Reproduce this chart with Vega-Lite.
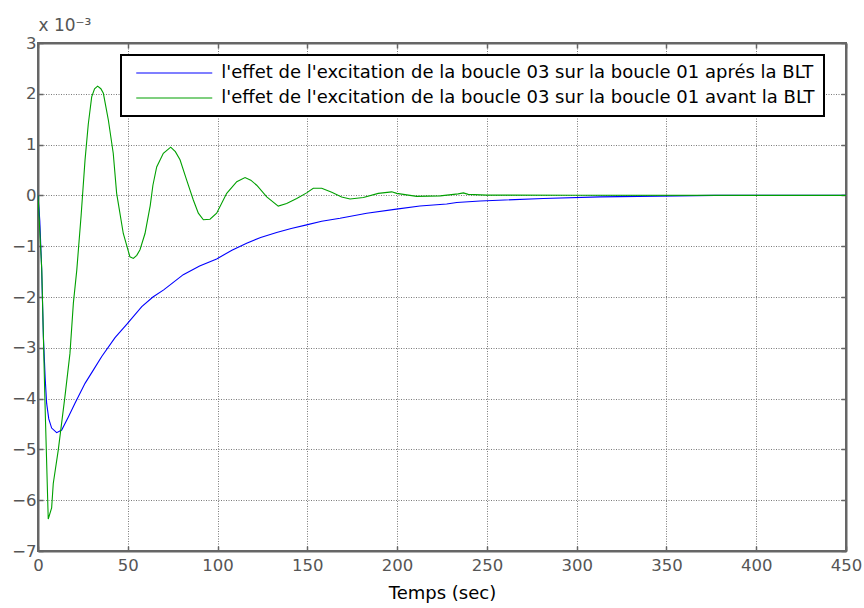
{
  "$schema": "https://vega.github.io/schema/vega-lite/v6.json",
  "width": 808,
  "height": 508,
  "autosize": {"type": "none"},
  "padding": {"left": 38, "top": 43, "right": 18, "bottom": 57},
  "background": "white",
  "config": {
    "font": "DejaVu Sans",
    "view": {"stroke": "#666666", "strokeWidth": 2},
    "axis": {
      "labelFont": "DejaVu Sans",
      "labelFontSize": 16.5,
      "labelColor": "#555555",
      "titleFont": "DejaVu Sans",
      "titleFontWeight": "normal",
      "domainColor": "#666666",
      "domainWidth": 2,
      "tickColor": "#666666",
      "tickWidth": 1.5,
      "tickSize": -5,
      "gridColor": "#7a7a7a",
      "gridDash": [1, 1.5],
      "gridWidth": 1
    }
  },
  "data": {
    "values": [
      {"t": 0, "v": 0, "s": "A"},
      {"t": 1, "v": -0.5, "s": "A"},
      {"t": 2, "v": -1.4, "s": "A"},
      {"t": 3, "v": -2.78, "s": "A"},
      {"t": 4, "v": -3.6, "s": "A"},
      {"t": 4.8, "v": -4.09, "s": "A"},
      {"t": 6, "v": -4.4, "s": "A"},
      {"t": 7.6, "v": -4.58, "s": "A"},
      {"t": 10.4, "v": -4.67, "s": "A"},
      {"t": 13.2, "v": -4.62, "s": "A"},
      {"t": 16.9, "v": -4.36, "s": "A"},
      {"t": 20.6, "v": -4.09, "s": "A"},
      {"t": 26.2, "v": -3.7, "s": "A"},
      {"t": 30.8, "v": -3.44, "s": "A"},
      {"t": 35.5, "v": -3.17, "s": "A"},
      {"t": 42.9, "v": -2.8, "s": "A"},
      {"t": 49.4, "v": -2.54, "s": "A"},
      {"t": 57.8, "v": -2.19, "s": "A"},
      {"t": 64, "v": -2.0, "s": "A"},
      {"t": 70, "v": -1.86, "s": "A"},
      {"t": 80.9, "v": -1.56, "s": "A"},
      {"t": 90, "v": -1.39, "s": "A"},
      {"t": 99.5, "v": -1.25, "s": "A"},
      {"t": 108, "v": -1.08, "s": "A"},
      {"t": 116.2, "v": -0.94, "s": "A"},
      {"t": 124, "v": -0.83, "s": "A"},
      {"t": 132.9, "v": -0.73, "s": "A"},
      {"t": 141, "v": -0.65, "s": "A"},
      {"t": 149.6, "v": -0.58, "s": "A"},
      {"t": 158, "v": -0.51, "s": "A"},
      {"t": 168.2, "v": -0.45, "s": "A"},
      {"t": 183.1, "v": -0.35, "s": "A"},
      {"t": 199.6, "v": -0.27, "s": "A"},
      {"t": 212.7, "v": -0.21, "s": "A"},
      {"t": 227.6, "v": -0.17, "s": "A"},
      {"t": 233.2, "v": -0.14, "s": "A"},
      {"t": 246.2, "v": -0.11, "s": "A"},
      {"t": 260, "v": -0.09, "s": "A"},
      {"t": 281.4, "v": -0.06, "s": "A"},
      {"t": 313, "v": -0.03, "s": "A"},
      {"t": 345, "v": -0.015, "s": "A"},
      {"t": 377, "v": 0, "s": "A"},
      {"t": 450, "v": 0, "s": "A"},
      {"t": 0, "v": 0, "s": "B"},
      {"t": 2.1, "v": -1.47, "s": "B"},
      {"t": 3.9, "v": -4.09, "s": "B"},
      {"t": 5.7, "v": -6.37, "s": "B"},
      {"t": 7.6, "v": -6.15, "s": "B"},
      {"t": 8.5, "v": -5.67, "s": "B"},
      {"t": 11.3, "v": -5.01, "s": "B"},
      {"t": 15.0, "v": -3.96, "s": "B"},
      {"t": 17.8, "v": -3.11, "s": "B"},
      {"t": 19.7, "v": -2.12, "s": "B"},
      {"t": 21.6, "v": -1.47, "s": "B"},
      {"t": 24, "v": -0.4, "s": "B"},
      {"t": 26.2, "v": 0.7, "s": "B"},
      {"t": 28, "v": 1.4, "s": "B"},
      {"t": 29.9, "v": 1.94, "s": "B"},
      {"t": 31.5, "v": 2.1, "s": "B"},
      {"t": 33.2, "v": 2.15, "s": "B"},
      {"t": 35, "v": 2.1, "s": "B"},
      {"t": 36.4, "v": 2.01, "s": "B"},
      {"t": 39.2, "v": 1.48, "s": "B"},
      {"t": 41.9, "v": 0.83, "s": "B"},
      {"t": 43.8, "v": 0.04, "s": "B"},
      {"t": 47.5, "v": -0.75, "s": "B"},
      {"t": 51.2, "v": -1.21, "s": "B"},
      {"t": 53.1, "v": -1.24, "s": "B"},
      {"t": 55, "v": -1.18, "s": "B"},
      {"t": 56.8, "v": -1.07, "s": "B"},
      {"t": 59.6, "v": -0.75, "s": "B"},
      {"t": 62.5, "v": -0.2, "s": "B"},
      {"t": 64, "v": 0.2, "s": "B"},
      {"t": 66.1, "v": 0.56, "s": "B"},
      {"t": 69.8, "v": 0.83, "s": "B"},
      {"t": 73.9, "v": 0.95, "s": "B"},
      {"t": 76.5, "v": 0.86, "s": "B"},
      {"t": 79.1, "v": 0.7, "s": "B"},
      {"t": 82.8, "v": 0.3, "s": "B"},
      {"t": 86.5, "v": -0.09, "s": "B"},
      {"t": 89.3, "v": -0.35, "s": "B"},
      {"t": 92.1, "v": -0.48, "s": "B"},
      {"t": 95.8, "v": -0.47, "s": "B"},
      {"t": 99.5, "v": -0.35, "s": "B"},
      {"t": 105.1, "v": 0.04, "s": "B"},
      {"t": 110.7, "v": 0.27, "s": "B"},
      {"t": 115.3, "v": 0.35, "s": "B"},
      {"t": 118.5, "v": 0.3, "s": "B"},
      {"t": 121.8, "v": 0.2, "s": "B"},
      {"t": 127.4, "v": -0.03, "s": "B"},
      {"t": 133.8, "v": -0.21, "s": "B"},
      {"t": 138.5, "v": -0.16, "s": "B"},
      {"t": 144.1, "v": -0.06, "s": "B"},
      {"t": 149.6, "v": 0.05, "s": "B"},
      {"t": 153.3, "v": 0.14, "s": "B"},
      {"t": 158, "v": 0.14, "s": "B"},
      {"t": 163.6, "v": 0.06, "s": "B"},
      {"t": 169.1, "v": -0.03, "s": "B"},
      {"t": 173.8, "v": -0.07, "s": "B"},
      {"t": 181.2, "v": -0.04, "s": "B"},
      {"t": 189.5, "v": 0.04, "s": "B"},
      {"t": 197, "v": 0.07, "s": "B"},
      {"t": 199.8, "v": 0.04, "s": "B"},
      {"t": 210.9, "v": -0.02, "s": "B"},
      {"t": 224, "v": -0.01, "s": "B"},
      {"t": 234, "v": 0.03, "s": "B"},
      {"t": 236.9, "v": 0.05, "s": "B"},
      {"t": 239.6, "v": 0.02, "s": "B"},
      {"t": 250, "v": 0.005, "s": "B"},
      {"t": 300, "v": 0.003, "s": "B"},
      {"t": 450, "v": 0, "s": "B"}
    ]
  },
  "transform": [
    {"calculate": "datum.s === 'A' ? \"l'effet de l'excitation de la boucle 03 sur la boucle 01 aprés la BLT\" : \"l'effet de l'excitation de la boucle 03 sur la boucle 01 avant la BLT\"", "as": "serie"}
  ],
  "layer": [
    {
      "mark": {"type": "line", "strokeWidth": 1.1, "clip": true},
      "encoding": {
        "x": {
          "field": "t", "type": "quantitative",
          "scale": {"domain": [0, 450], "nice": false, "zero": false},
          "axis": {"values": [0, 50, 100, 150, 200, 250, 300, 350, 400, 450], "title": "Temps (sec)", "titleFontSize": 18, "titleColor": "#000000", "titlePadding": 11, "labelPadding": 11, "grid": true, "labelFlush": false}
        },
        "y": {
          "field": "v", "type": "quantitative",
          "scale": {"domain": [-7, 3], "nice": false, "zero": false},
          "axis": {"values": [-7, -6, -5, -4, -3, -2, -1, 0, 1, 2, 3], "title": "x 10⁻³", "titleAngle": 0, "titleAlign": "left", "titleBaseline": "bottom", "titleX": 0, "titleY": -9, "titleFontSize": 17, "titleColor": "#555555", "labelPadding": 7, "grid": true}
        },
        "color": {
          "field": "serie", "type": "nominal",
          "scale": {
            "domain": ["l'effet de l'excitation de la boucle 03 sur la boucle 01 aprés la BLT", "l'effet de l'excitation de la boucle 03 sur la boucle 01 avant la BLT"],
            "range": ["#0000ff", "#00a000"]
          },
          "legend": {
            "title": null,
            "orient": "none",
            "legendX": 83,
            "legendY": 12,
            "fillColor": "#ffffff",
            "strokeColor": "#000000",
            "padding": 9,
            "symbolType": "M0,0H16",
            "symbolSize": 90.25,
            "symbolStrokeWidth": 1.2,
            "symbolOffset": -2.75,
            "labelOffset": 76,
            "labelFont": "DejaVu Sans",
            "labelFontSize": 18,
            "labelColor": "#000000",
            "labelLimit": 800,
            "rowPadding": 7,
            "encode": {"legend": {"update": {"strokeWidth": {"value": 2}}}}
          }
        }
      }
    },
    {
      "mark": {"type": "line", "opacity": 0},
      "encoding": {
        "x": {"field": "t", "type": "quantitative", "scale": {"domain": [0, 450], "nice": false, "zero": false},
          "axis": {"orient": "top", "values": [0, 50, 100, 150, 200, 250, 300, 350, 400, 450], "labels": false, "title": null, "grid": false}},
        "y": {"field": "v", "type": "quantitative", "scale": {"domain": [-7, 3], "nice": false, "zero": false},
          "axis": {"orient": "right", "values": [-7, -6, -5, -4, -3, -2, -1, 0, 1, 2, 3], "labels": false, "title": null, "grid": false}},
        "detail": {"field": "s"}
      }
    }
  ],
  "resolve": {"axis": {"x": "independent", "y": "independent"}}
}
